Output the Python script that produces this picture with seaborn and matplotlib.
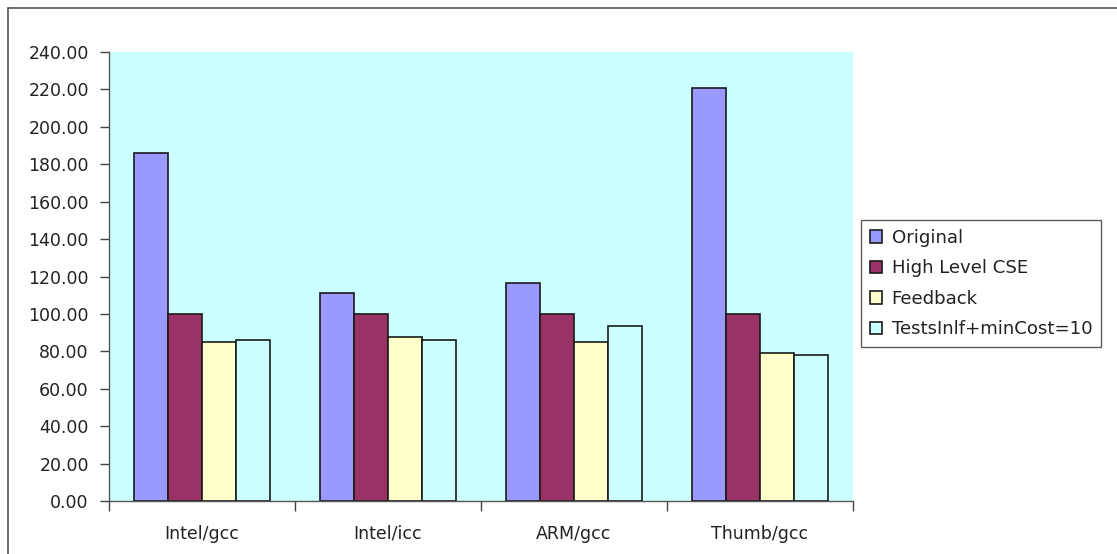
import matplotlib
matplotlib.use("Agg")
import matplotlib.pyplot as plt
from matplotlib.lines import Line2D
import numpy as np
import pandas as pd
import seaborn as sns

# Benchmark categories (compiler/target) and the four series
categories = ["Intel/gcc", "Intel/icc", "ARM/gcc", "Thumb/gcc"]
series_names = ["Original", "High Level CSE", "Feedback", "TestsInlf+minCost=10"]
original = [186.0, 111.0, 116.5, 220.7]
high_level_cse = [100.0, 100.0, 100.0, 100.0]
feedback = [85.2, 87.8, 85.2, 79.2]
tests_inlf = [86.0, 86.0, 93.8, 78.3]
series_colors = ["#9999FF", "#993366", "#FFFFCC", "#CCFFFF"]
y_ticks = [0, 20, 40, 60, 80, 100, 120, 140, 160, 180, 200, 220, 240]

rows = []
for name, vals in zip(series_names, [original, high_level_cse, feedback, tests_inlf]):
    for cat, v in zip(categories, vals):
        rows.append({"category": cat, "series": name, "value": v})
df = pd.DataFrame(rows)

sns.set_style("white")
plt.rcParams["font.family"] = ["DejaVu Sans"]
text_color = "#222222"

fig = plt.figure(figsize=(11.17, 5.54), dpi=100)
ax = fig.add_axes([109 / 1117, 1 - 501 / 554, (853 - 109) / 1117, (501 - 52) / 554])
ax.set_facecolor("#CCFFFF")

sns.barplot(
    data=df, x="category", y="value", hue="series",
    order=categories, hue_order=series_names,
    palette=series_colors, width=0.73, gap=0,
    edgecolor="#1a1a1a", linewidth=1.2, saturation=1, ax=ax,
)

ax.set_xlim(-0.5, len(categories) - 0.5)
ax.set_ylim(0, 240)
ax.set_yticks(y_ticks)
ax.set_yticklabels([f"{t:.2f}" for t in y_ticks])
ax.set_xlabel("")
ax.set_ylabel("")

# Category separators drawn as minor ticks
ax.set_xticks(np.arange(-0.5, len(categories), 1.0), minor=True)
ax.tick_params(axis="x", which="major", bottom=True, length=0, pad=17,
               labelsize=12.5, labelcolor=text_color)
ax.tick_params(axis="x", which="minor", bottom=True, length=7, width=1,
               color="#444444", direction="out")
ax.tick_params(axis="y", which="major", left=True, length=6.5, width=1,
               color="#444444", direction="out", pad=8, labelsize=12.5,
               labelcolor=text_color)

for side in ["top", "right"]:
    ax.spines[side].set_visible(False)
for side in ["left", "bottom"]:
    ax.spines[side].set_color("#555555")
    ax.spines[side].set_linewidth(1.0)

handles, labels = ax.get_legend_handles_labels()
if ax.legend_:
    ax.legend_.remove()
leg = fig.legend(
    handles, labels, loc="upper left",
    bbox_to_anchor=(861 / 1117, 1 - 220 / 554), bbox_transform=fig.transFigure,
    borderaxespad=0, frameon=True, fancybox=False, fontsize=13.1,
    handlelength=0.68, handleheight=0.68, handletextpad=0.5,
    labelspacing=0.68, borderpad=0.5,
)
leg.get_frame().set_edgecolor("#333333")
leg.get_frame().set_linewidth(1.0)
for t in leg.get_texts():
    t.set_color(text_color)

# Outer frame along the top and left edges
fig.add_artist(Line2D([8 / 1117, 1.0], [1 - 7.5 / 554, 1 - 7.5 / 554],
                      transform=fig.transFigure, color="#555555", linewidth=1.2))
fig.add_artist(Line2D([8 / 1117, 8 / 1117], [0.0, 1 - 7.5 / 554],
                      transform=fig.transFigure, color="#555555", linewidth=1.2))

fig.savefig("out.png", dpi=100, facecolor="white")
